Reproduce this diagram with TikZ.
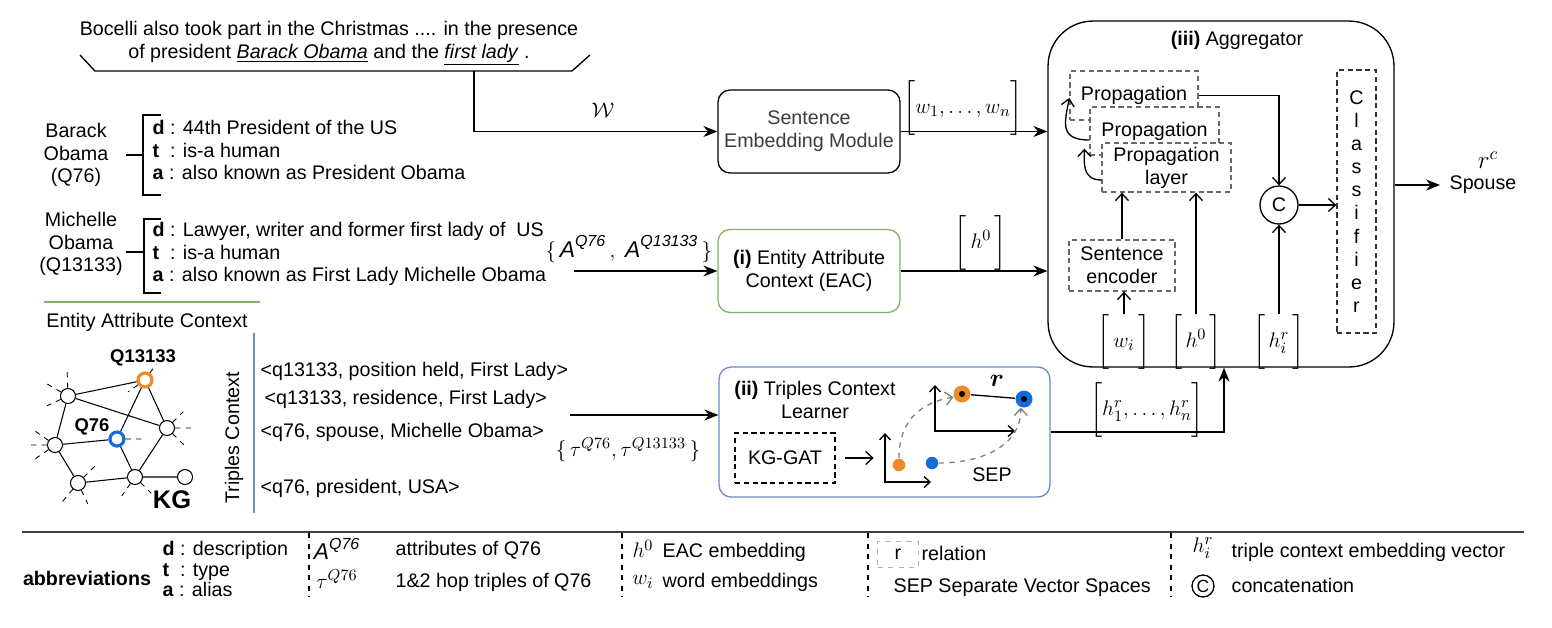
\documentclass[tikz,border=0pt]{standalone}
\usepackage{amsmath,amssymb}
\usepackage{fontspec}
\setmainfont{Liberation Sans}
\usepackage{xcolor}
\usepackage{tikz}
\usetikzlibrary{positioning,arrows.meta}

\definecolor{kgorange}{RGB}{240,138,36}
\definecolor{kgblue}{RGB}{22,108,214}
\definecolor{eacgreen}{RGB}{130,179,102}
\definecolor{tclblue}{RGB}{108,142,191}
\definecolor{dashgray}{RGB}{105,105,105}
\definecolor{textgray}{RGB}{60,60,60}

\begin{document}
\begin{tikzpicture}[
    x=0.02cm, y=-0.02cm,
    line width=0.75pt,
    every node/.style={font=\fontsize{11.2}{13}\selectfont, inner sep=0pt},
    mathlbl/.style={font=\fontsize{13}{15}\selectfont},
    modbox/.style={draw, rounded corners=0.24cm, minimum width=3.64cm, minimum height=1.66cm, align=center, fill=white},
    dashbox/.style={draw=dashgray, dash pattern=on 3pt off 2pt, fill=white, align=center},
    kgnode/.style={draw, circle, fill=white, minimum size=0.3cm, line width=0.6pt},
    ring/.style={draw=#1, circle, fill=white, minimum size=0.28cm, line width=1.8pt},
    fwd/.style={-{Stealth[length=0.28cm,width=0.22cm]}},
    opn/.style={-{Straight Barb[length=0.14cm,width=0.26cm]}}
]
    \useasboundingbox (0,0) rectangle (1552,627);

    % Sentence
    \node[align=center] (sent) at (329,43.5) {Bocelli also took part in the Christmas .... in the presence\\of president \underline{\textit{Barack Obama}} and the \underline{\textit{first lady}} .};
    \draw (80,55) -- (95,71) -- (572,71) -- (590,55);
    \coordinate (sentfoot) at (474,71);

    % Entities
    \node[align=center] (barack) at (76,155) {Barack\\Obama\\(Q76)};
    \node[anchor=west, align=left] (baattr) at (152,150) {\textbf{d} : 44th President of the US\\\textbf{t} \ : is-a human\\\textbf{a} : also known as President Obama};
    \draw (161,115) -- (143,115) -- (143,195) -- (161,195);
    \draw (126,155) -- (143,155);

    \node[align=center] (michelle) at (81,244) {Michelle\\Obama\\(Q13133)};
    \node[anchor=west, align=left] (miattr) at (152,254) {\textbf{d} : Lawyer, writer and former first lady of \ US\\\textbf{t} \ : is-a human\\\textbf{a} : also known as First Lady Michelle Obama};
    \draw (161,219) -- (144,219) -- (144,293) -- (161,293);
    \draw (126,252) -- (144,252);

    \draw[eacgreen, line width=1.5pt] (44,302) -- (260,302);
    \node (eaclbl) at (147,322) {Entity Attribute Context};

    % KG
    \node[font=\fontsize{10.5}{12}\selectfont\bfseries] (q13133lbl) at (143,358) {Q13133};
    \node[font=\fontsize{10.5}{12}\selectfont\bfseries] (q76lbl) at (92,427) {Q76};
    \node[font=\fontsize{14.5}{16}\selectfont\bfseries] (kglbl) at (172,500) {KG};
    \node[ring=kgorange] (q13133) at (145,380) {};
    \node[kgnode] (k1) at (68,396) {};
    \node[kgnode] (k2) at (167,428) {};
    \node[ring=kgblue] (q76) at (117,439) {};
    \node[kgnode] (k3) at (55,445) {};
    \node[kgnode] (k4) at (78,483) {};
    \node[kgnode] (k5) at (135,477) {};
    \node[kgnode] (k6) at (185,477) {};
    \draw[line width=0.6pt] (q13133) -- (k1) (q13133) -- (q76) (q13133) -- (k2) (k1) -- (k2)
        (k1) -- (k3) (k3) -- (q76) (k3) -- (k4) (k4) -- (k5) (q76) -- (k5) (k2) -- (k5) (k5) -- (k6);
    \draw[dashed, line width=0.5pt]
        (k1.92) -- ++(92:0.34cm) (k1.150) -- ++(150:0.34cm) (k1.205) -- ++(205:0.3cm)
        (k3.180) -- ++(180:0.36cm) (k3.145) -- ++(145:0.32cm) (k3.215) -- ++(215:0.34cm)
        (k4.230) -- ++(230:0.34cm) (k4.295) -- ++(295:0.3cm) (k4.45) -- ++(45:0.32cm)
        (k2.0) -- ++(0:0.34cm) (k2.45) -- ++(45:0.3cm) (k2.-45) -- ++(-45:0.34cm)
        (q76.0) -- ++(0:0.34cm) (q13133.55) -- ++(55:0.22cm) (q13133.215) -- ++(215:0.24cm)
        (k5.-45) -- ++(-45:0.3cm) (k5.235) -- ++(235:0.3cm);

    % Triples
    \draw[tclblue, line width=1.2pt] (254,333) -- (254,513);
    \node[rotate=90] (trlbl) at (234,438) {Triples Context};
    \node[anchor=west] (tr1) at (260,371) {<q13133, position held, First Lady>};
    \node[anchor=west] (tr2) at (264,399) {<q13133, residence, First Lady>};
    \node[anchor=west] (tr3) at (260,432) {<q76, spouse, Michelle Obama>};
    \node[anchor=west] (tr4) at (260,488) {<q76, president, USA>};

    % Modules
    \node[modbox, text=textgray] (sem) at (809,131.5) {Sentence\\Embedding Module};
    \node[modbox, draw=eacgreen] (eac) at (809,271) {\textbf{(i)} Entity Attribute\\Context (EAC)};
    \node[modbox, draw=tclblue, minimum width=6.62cm, minimum height=2.6cm] (tcl) at (884.5,432) {};
    \node[align=center] (tcltitle) at (815,400) {\textbf{(ii)} Triples Context\\Learner};

    % Inputs
    \node[mathlbl] (wlbl) at (603,110) {$\mathcal{W}$};
    \draw[fwd] (sentfoot) |- (sem.west);
    \coordinate (eacin) at (574,271);
    \node[mathlbl] (alabel) at (629,249) {$\{\,\textit{A}^{\textit{Q76}}\,,\ \textit{A}^{\textit{Q13133}}\,\}$};
    \draw[fwd] (eacin) -- (eac.west);
    \coordinate (tclin) at (570,415);
    \node[mathlbl] (taulabel) at (628,450) {$\{\,\tau^{Q76},\tau^{Q13133}\,\}$};
    \draw[fwd] (tclin) -- (tclin -| tcl.west);

    % TCL inside
    \node[dashbox, draw=black, minimum width=2cm, minimum height=1cm] (kggat) at (785,458) {KG-GAT};
    \draw[opn] ([xshift=0.18cm]kggat.east) -- ([xshift=0.76cm]kggat.east);
    \draw[{Straight Barb[length=0.12cm,width=0.22cm]}-{Straight Barb[length=0.12cm,width=0.22cm]}] (885,433) -- (885,482) -- (931,482);
    \draw[{Straight Barb[length=0.12cm,width=0.22cm]}-{Straight Barb[length=0.12cm,width=0.22cm]}] (935,385) -- (935,431) -- (1015,431);
    \node[circle, fill=kgorange, minimum size=0.25cm] (od) at (899,465) {};
    \node[circle, fill=kgblue, minimum size=0.25cm] (bd) at (932,463) {};
    \node[circle, fill=kgorange, minimum size=0.34cm] (oring) at (962,394) {};
    \node[circle, fill=kgblue, minimum size=0.34cm] (bring) at (1024,399) {};
    \draw (oring) -- (bring);
    \fill (oring) circle (0.06cm) (bring) circle (0.06cm);
    \node[font=\fontsize{14}{16}\selectfont] (rlbl) at (997,381) {$\boldsymbol{r}$};
    \draw[dashed, gray, opn] (od.north) .. controls +(0,0.8cm) and +(-0.6cm,-0.1cm) .. (oring.200);
    \draw[dashed, gray, opn] (bd.east) .. controls +(0.8cm,0) and +(0,-0.8cm) .. (bring.250);
    \node (sep) at (992,475) {SEP};

    % Aggregator
    \node[draw, rounded corners=0.9cm, minimum width=6.92cm, minimum height=6.92cm] (agg) at (1221,194) {};
    \node (aggtitle) at (1237,40) {\textbf{(iii)} Aggregator};
    \node[mathlbl] (wseq) at (963,108) {$\bigg[w_1,\ldots,w_n\bigg]$};
    \draw[fwd] (sem.east) -- (sem.east -| agg.west);
    \node[mathlbl] (hzero) at (981,243) {$\bigg[\,h^0\,\bigg]$};
    \draw[fwd] (eac.east) -- (eac.east -| agg.west);
    \node[mathlbl] (hseq) at (1147,410) {$\bigg[h_1^r,\ldots,h_n^r\bigg]$};
    \draw[fwd] (tcl.east) -| ([xshift=0.06cm]agg.south);

    \node[dashbox, minimum width=2.56cm, minimum height=0.98cm] (p1) at (1134,95.5) {Propagation};
    \node[dashbox, minimum width=2.58cm, minimum height=0.96cm] (p2) at (1154.5,131) {Propagation};
    \node[dashbox, minimum width=2.58cm, minimum height=0.98cm] (p3) at (1166.5,167.5) {Propagation\\layer};
    \draw[opn] ([yshift=-0.25cm]p3.west) .. controls +(-0.4cm,0) and +(0,-0.25cm) .. ([xshift=-0.1cm,yshift=0.14cm]p2.south west);
    \draw[opn] ([yshift=-0.18cm]p2.west) .. controls +(-0.6cm,0) and +(-0.1cm,-0.5cm) .. ([yshift=-0.05cm]p1.west);

    \node[circle, draw, minimum size=0.76cm] (conc) at (1279,205) {C};
    \node[dashbox, draw=black!80, fill=none, minimum width=0.78cm, minimum height=5.26cm, font=\fontsize{11.2}{13.2}\selectfont] (clf) at (1356.5,201.5) {C\\l\\a\\s\\s\\i\\f\\i\\e\\r};
    \node[dashbox, minimum width=2.12cm, minimum height=1.02cm] (senc) at (1122,265.5) {Sentence\\encoder};
    \node[mathlbl] (wi) at (1124,342) {$\bigg[\,w_i\,\bigg]$};
    \node[mathlbl] (hz) at (1196,342) {$\bigg[\,h^0\,\bigg]$};
    \node[mathlbl] (hr) at (1279,342) {$\bigg[\,h_i^r\,\bigg]$};

    \draw[opn] (p1.east) -| (conc.north);
    \draw[opn] (conc.east) -- (conc.east -| clf.west);
    \draw[opn] (senc.north) -- (senc.north |- p3.south);
    \draw[opn] (wi.north) -- (wi.north |- senc.south);
    \draw[opn] (hz.north) -- (hz.north |- p3.south);
    \draw[opn] (hr.north) -- (conc.south);

    % Output
    \node[anchor=west] (spouse) at (1449,185) {Spouse};
    \node[font=\fontsize{14}{16}\selectfont] (rc) at (1488,160) {$r^c$};
    \draw[fwd] (spouse.west -| agg.east) -- ([xshift=-0.18cm]spouse.west);

    % Legend
    \draw[line width=1.2pt, black!75] (22,532) -- (1524,532);
    \node[font=\fontsize{11.2}{13}\selectfont\bfseries] (abbr) at (87,578) {abbreviations};
    \node[anchor=west, align=left, font=\fontsize{11.2}{11.9}\selectfont] (abbrdta) at (162,569) {\textbf{d} : description\\\textbf{t} \ : type\\\textbf{a} : alias};
    \draw[dashed] (309,533) -- (309,597) (622,533) -- (622,597) (868,533) -- (868,597) (1171,533) -- (1171,597);
    \node[mathlbl] (lga) at (337,549) {$\textit{A}^{\textit{Q76}}$};
    \node[anchor=west] (lgatxt) at (395,550) {attributes of Q76};
    \node[mathlbl] (lgtau) at (337,579) {$\tau^{Q76}$};
    \node[anchor=west] (lgtautxt) at (395,582) {1\&2 hop triples of Q76};
    \node[mathlbl] (lgh) at (643,549) {$h^0$};
    \node[anchor=west] (lghtxt) at (662,552) {EAC embedding};
    \node[mathlbl] (lgw) at (643,582) {$w_i$};
    \node[anchor=west] (lgwtxt) at (662,582) {word embeddings};
    \node[draw=gray!60, dashed, line width=0.5pt, minimum width=0.82cm, minimum height=0.52cm] (lgr) at (898,554) {r};
    \node[anchor=west] (lgrtxt) at (921,553) {relation};
    \node[anchor=west] (lgsep) at (893,588) {SEP Separate Vector Spaces};
    \node[mathlbl] (lghr) at (1203,548) {$h_i^r$};
    \node[anchor=west] (lghrtxt) at (1231,552) {triple context embedding vector};
    \node[circle, draw, minimum size=0.44cm, font=\fontsize{10}{12}\selectfont] (lgc) at (1203,586) {C};
    \node[anchor=west] (lgctxt) at (1231,585) {concatenation};
\end{tikzpicture}
\end{document}
